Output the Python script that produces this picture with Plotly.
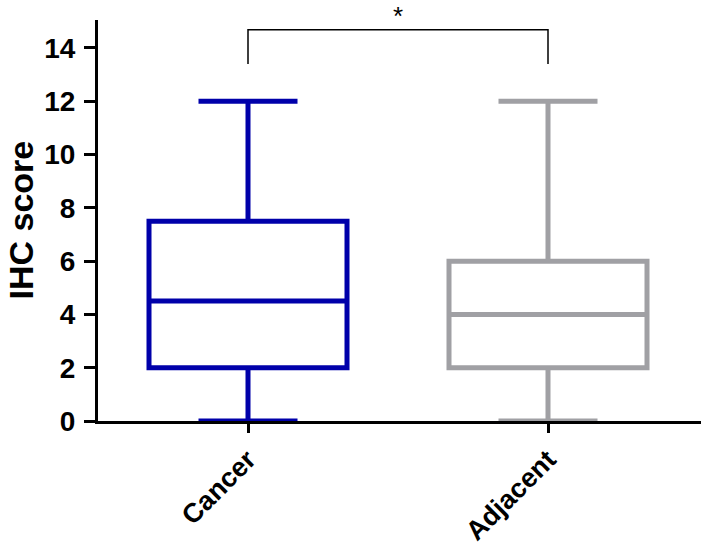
import plotly.graph_objects as go

categories = ["Cancer", "Adjacent"]
mins = [0, 0]
q1s = [2, 2]
medians = [4.5, 4]
q3s = [7.5, 6]
maxs = [12, 12]
colors = ["#0000AA", "#A0A0A4"]
sig_label = "*"
y_title = "IHC score"
y_ticks = [0, 2, 4, 6, 8, 10, 12, 14]

FONT = "Arial, Liberation Sans, sans-serif"

fig = go.Figure()
for i, cat in enumerate(categories):
    fig.add_trace(go.Box(
        x=[cat],
        q1=[q1s[i]], median=[medians[i]], q3=[q3s[i]],
        lowerfence=[mins[i]], upperfence=[maxs[i]],
        width=0.66, whiskerwidth=0.5,
        line=dict(color=colors[i], width=5),
        fillcolor="rgba(0,0,0,0)",
        boxpoints=False, showlegend=False, hoverinfo="skip",
    ))

# significance bracket
fig.add_shape(type="path",
              path="M 0,13.4 L 0,14.68 L 1,14.68 L 1,13.4",
              xref="x", yref="y", line=dict(color="black", width=1.5))
fig.add_annotation(x=0.5, y=14.68, xref="x", yref="y", text=sig_label,
                   showarrow=False, yshift=14,
                   font=dict(family=FONT, size=26, color="black"))

# y-axis title
fig.add_annotation(x=0, y=0.5, xref="paper", yref="paper", text=y_title,
                   textangle=-90, showarrow=False, xanchor="center", yanchor="middle",
                   xshift=-78,
                   font=dict(family=FONT, size=34, color="black", weight="bold"))

fig.update_layout(
    width=701, height=546,
    margin=dict(l=98, r=0, t=20, b=125),
    paper_bgcolor="white", plot_bgcolor="white",
    font=dict(family=FONT, color="black"),
)
fig.update_xaxes(
    type="category", range=[-0.5, 1.51], automargin=False,
    showline=True, linecolor="black", linewidth=3,
    ticks="outside", ticklen=9, tickwidth=3, tickcolor="black",
    tickangle=-45, tickfont=dict(family=FONT, size=27, color="black", weight="bold"),
    showgrid=False, zeroline=False, layer="below traces",
)
fig.update_yaxes(
    range=[0, 15.05], tickvals=y_ticks, ticktext=[str(v) for v in y_ticks],
    automargin=False,
    showline=True, linecolor="black", linewidth=3,
    ticks="outside", ticklen=11, tickwidth=3, tickcolor="black",
    ticklabelstandoff=3,
    tickfont=dict(family=FONT, size=28, color="black", weight="bold"),
    showgrid=False, zeroline=False, layer="below traces",
)

fig.write_html("out.html", config={"displayModeBar": False},
               post_script="document.body.style.margin='0';")
